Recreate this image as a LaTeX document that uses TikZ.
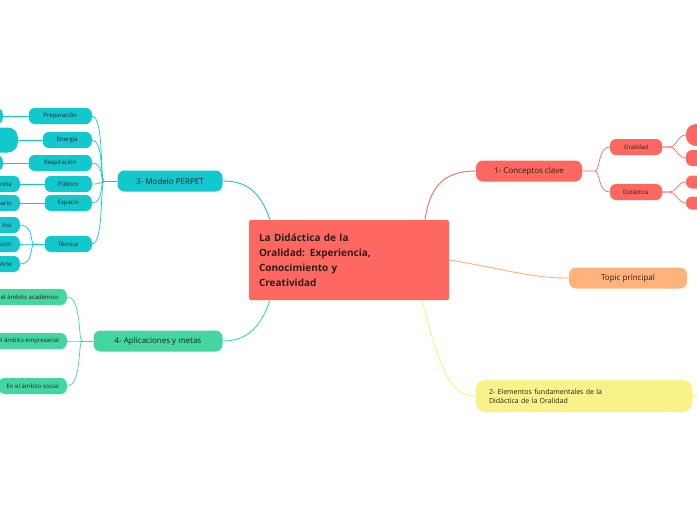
\documentclass[tikz,border=0pt]{standalone}
\usepackage{fontspec}
\setmainfont{Open Sans}
\definecolor{RedMain}{RGB}{255,104,97}
\definecolor{CyanMain}{RGB}{18,200,207}
\definecolor{GreenMain}{RGB}{68,214,160}
\definecolor{OrangeMain}{RGB}{255,178,122}
\definecolor{YellowMain}{RGB}{249,242,138}
\definecolor{TextDark}{RGB}{40,30,30}
\tikzset{
  topicbox/.style={rounded corners=7pt, minimum height=21pt, inner xsep=10pt, font=\fontsize{8}{9}\selectfont, text=TextDark},
  subbox/.style={rounded corners=6pt, minimum height=16pt, inner xsep=8pt, font=\fontsize{6}{7}\selectfont, text=TextDark},
  link/.style={line width=0.9pt}
}
\begin{document}
\begin{tikzpicture}[x=1pt, y=-1pt]
\useasboundingbox (0,0) rectangle (697,520);
\clip (0,0) rectangle (697,520);

% central topic
\node[fill=RedMain, minimum width=200pt, minimum height=80pt, rounded corners=2pt, align=left, text width=180pt, font=\bfseries\fontsize{10}{15}\selectfont, text=TextDark] (main) at (349,260) {La Didáctica de la\\Oralidad: Experiencia,\\Conocimiento y\\Creatividad};

% main branches
\node[topicbox, fill=RedMain, minimum width=106pt] (conc) at (529,171) {1- Conceptos clave};
\node[topicbox, fill=OrangeMain, minimum width=118pt] (topic) at (628,278) {Topic principal};
\node[topicbox, fill=YellowMain, minimum width=217pt, minimum height=32pt, rounded corners=10pt, align=left, text width=190pt, font=\fontsize{7}{9}\selectfont] (elem) at (584,396) {2- Elementos fundamentales de la\\Didáctica de la Oralidad};
\node[topicbox, fill=CyanMain, minimum width=105pt] (perp) at (170,181) {3- Modelo PERPET};
\node[topicbox, fill=GreenMain, minimum width=129pt] (apli) at (158,341) {4- Aplicaciones y metas};

\coordinate (mtr) at (425,220);
\coordinate (mbr) at (422,300);
\coordinate (mtl) at (270,220);
\coordinate (mbl) at (270,300);
\coordinate (edge) at (697,396);
\draw[link, RedMain] (mtr) .. controls (430,185) and (445,171) .. (conc.west);
\draw[link, OrangeMain] (main.east) .. controls (510,270) and (530,278) .. (topic.west);
\draw[link, YellowMain] (mbr) .. controls (440,370) and (450,396) .. (elem.west);
\draw[link, YellowMain] (elem.east) -- (edge);
\draw[link, CyanMain] (mtl) .. controls (260,190) and (245,181) .. (perp.east);
\draw[link, GreenMain] (mbl) .. controls (260,330) and (245,341) .. (apli.east);

% 1- children
\node[subbox, fill=RedMain, minimum width=52pt] (oral) at (636,147) {Oralidad};
\node[subbox, fill=RedMain, minimum width=52pt] (dida) at (636,192) {Didáctica};
\coordinate (cj) at (595,171);
\draw[link, RedMain, line width=0.7pt] (conc.east) -- (cj) .. controls (600,171) and (598,147) .. (oral.west);
\draw[link, RedMain, line width=0.7pt] (cj) .. controls (600,171) and (598,192) .. (dida.west);
\node[subbox, fill=RedMain, minimum width=40pt, minimum height=22pt, rounded corners=10pt] (ora1) at (706,135) {};
\node[subbox, fill=RedMain, minimum width=40pt] (ora2) at (706,158) {};
\node[subbox, fill=RedMain, minimum width=40pt, minimum height=13pt] (did1) at (706,182) {};
\node[subbox, fill=RedMain, minimum width=40pt, minimum height=13pt] (did2) at (706,203) {};
\foreach \a/\b in {oral/ora1, oral/ora2, dida/did1, dida/did2}
  \draw[link, RedMain, line width=0.7pt] (\a.east) -- ++(8,0) .. controls +(6,0) and +(-8,0) .. (\b.west);

% 3- children
\coordinate (pj) at (104,181);
\draw[link, CyanMain, line width=0.7pt] (perp.west) -- (pj);
\foreach \n/\t/\w/\y in {prep/Preparación/63/116, ener/Energía/49/140, resp/Respiración/63/163, publ/Público/47/184, espa/Espacio/47/203, tecn/Técnica/47/244} {
  \node[subbox, fill=CyanMain, minimum width=\w pt, anchor=east] (\n) at (92,\y) {\t};
  \draw[link, CyanMain, line width=0.7pt] (pj) .. controls (100,181) and (104,\y) .. (\n.east);
}
\node[subbox, fill=CyanMain, minimum width=40pt, anchor=east] (prep1) at (3,116) {};
\node[subbox, fill=CyanMain, minimum width=40pt, minimum height=25pt, rounded corners=10pt, anchor=east] (ener1) at (18,140) {};
\node[subbox, fill=CyanMain, minimum width=40pt, anchor=east] (resp1) at (3,163) {};
\node[subbox, fill=CyanMain, anchor=east] (publ1) at (20,184) {Audiencia};
\node[subbox, fill=CyanMain, anchor=east] (espa1) at (20,203) {Escenario};
\foreach \a/\b in {prep/prep1, ener/ener1, resp/resp1, publ/publ1, espa/espa1}
  \draw[link, CyanMain, line width=0.7pt] (\a.west) -- (\b.east);
\coordinate (tj) at (34,244);
\draw[link, CyanMain, line width=0.7pt] (tecn.west) -- (tj);
\foreach \n/\t/\y in {tec1/Voz/225, tec2/Dicción/244, tec3/Arte/264} {
  \node[subbox, fill=CyanMain, anchor=east] (\n) at (20,\y) {\t};
  \draw[link, CyanMain, line width=0.7pt] (tj) .. controls (30,244) and (34,\y) .. (\n.east);
}

% 4- children
\coordinate (aj) at (82,341);
\draw[link, GreenMain, line width=0.7pt] (apli.west) -- (aj);
\foreach \n/\t/\y in {ap1/En el ámbito académico/297, ap2/En el ámbito empresarial/341, ap3/En el ámbito social/386} {
  \node[subbox, fill=GreenMain, anchor=east] (\n) at (67,\y) {\t};
  \draw[link, GreenMain, line width=0.7pt] (aj) .. controls (78,341) and (82,\y) .. (\n.east);
}
\end{tikzpicture}
\end{document}
